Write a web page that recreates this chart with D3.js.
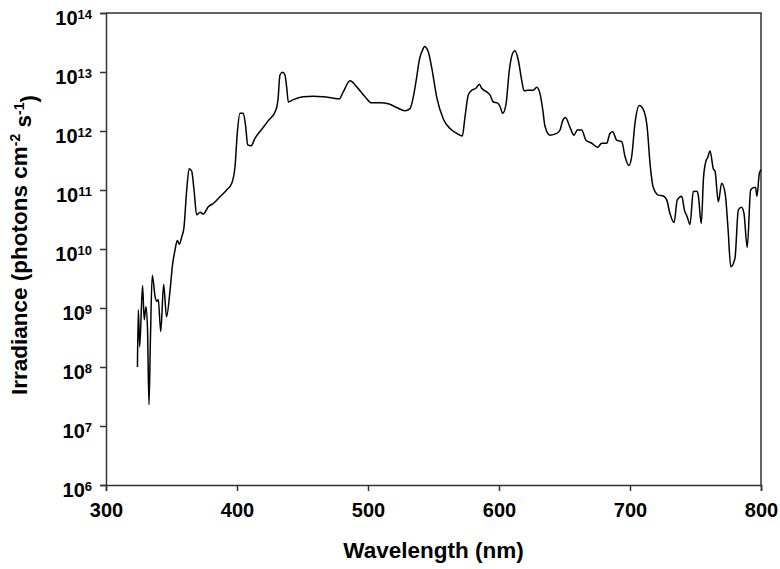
<!DOCTYPE html>
<html>
<head>
<meta charset="utf-8">
<script src="https://cdn.jsdelivr.net/npm/d3@7"></script>
<style>
  body { margin: 0; background: #fff; }
  svg { display: block; font-family: Arial, "Liberation Sans", sans-serif; }
</style>
</head>
<body>
<svg id="chart"></svg>
<script>
// spectrum
const wavelength = [
  324.0, 324.7, 325.7, 327.9, 329.2, 330.5, 331.7, 332.8, 333.9, 335.3,
  337.6, 338.9, 339.9, 341.8, 344.0, 346.2, 348.9, 350.9, 352.7, 354.4,
  355.9, 357.8, 359.5, 361.6, 363.5, 365.4, 367.2, 369.2, 371.8, 374.3,
  378.1, 381.9, 387.0, 392.1, 396.0, 398.5, 400.2, 402.3, 404.8, 406.6,
  408.2, 410.7, 413.7, 418.9, 423.9, 429.8, 431.3, 432.8, 434.9, 436.6,
  437.9, 439.2, 443.0, 450.6, 458.2, 465.9, 473.5, 478.1, 481.1, 486.3,
  491.4, 497.7, 502.8, 509.2, 515.5, 521.9, 528.2, 532.1, 534.6, 537.2,
  539.2, 541.8, 543.1, 546.0, 548.6, 552.4, 557.5, 562.6, 567.7, 572.0,
  574.0, 576.6, 579.2, 582.4, 585.0, 586.8, 590.6, 593.1, 595.7, 598.7,
  600.8, 602.8, 605.3, 607.9, 610.5, 612.2, 614.7, 617.3, 619.1, 622.4,
  626.2, 628.8, 631.3, 633.4, 635.1, 638.9, 644.0, 646.6, 648.6, 650.8,
  654.2, 657.3, 659.8, 663.1, 666.4, 670.8, 675.3, 678.4, 682.2, 684.7,
  686.8, 689.8, 693.7, 696.2, 699.2, 701.3, 703.8, 707.1, 710.2, 713.2,
  715.3, 717.8, 721.6, 725.4, 728.0, 730.5, 733.6, 736.1, 739.5, 741.5,
  743.7, 745.8, 748.3, 750.9, 752.1, 754.4, 756.1, 758.0, 759.2, 761.1,
  763.6, 764.9, 767.4, 770.0, 772.7, 774.9, 776.9, 780.1, 782.7, 785.2,
  787.0, 789.5, 792.1, 794.7, 795.9, 796.9, 798.7, 800.0
];
const irradiance = [
  1.0e8, 9.3e8, 2.2e8, 2.4e9, 6.3e8, 1.05e9, 4.3e8, 2.3e7, 2.9e8, 3.6e9,
  1.5e9, 1.3e9, 1.4e9, 4.0e8, 2.5e9, 7.1e8, 2.0e9, 5.7e9, 9.6e9, 1.4e10,
  1.2e10, 1.6e10, 2.3e10, 1.0e11, 2.3e11, 2.1e11, 1.0e11, 3.8e10, 4.2e10, 3.9e10,
  5.2e10, 5.9e10, 7.7e10, 1.0e11, 1.3e11, 2.5e11, 9.1e11, 2.0e12, 2.0e12, 1.2e12,
  5.8e11, 5.6e11, 7.5e11, 1.07e12, 1.5e12, 2.3e12, 3.4e12, 8.9e12, 9.9e12, 8.9e12,
  5.6e12, 3.1e12, 3.4e12, 3.8e12, 3.9e12, 3.8e12, 3.6e12, 3.5e12, 4.6e12, 7.1e12,
  5.6e12, 3.8e12, 3.0e12, 3.0e12, 2.9e12, 2.5e12, 2.2e12, 2.4e12, 3.8e12, 8.3e12,
  1.6e13, 2.4e13, 2.7e13, 2.2e13, 1.2e13, 3.8e12, 1.6e12, 1.1e12, 9.1e11, 8.2e11,
  1.7e12, 4.1e12, 4.9e12, 5.3e12, 6.2e12, 5.3e12, 4.6e12, 4.1e12, 3.1e12, 3.0e12,
  2.6e12, 2.0e12, 2.8e12, 1.08e13, 2.1e13, 2.3e13, 1.6e13, 7.3e12, 4.8e12, 4.9e12,
  4.9e12, 5.5e12, 4.3e12, 2.3e12, 1.2e12, 8.5e11, 9.1e11, 1.04e12, 1.5e12, 1.7e12,
  1.15e12, 8.5e11, 1.04e12, 1.04e12, 7.0e11, 6.2e11, 5.3e11, 6.2e11, 6.2e11, 9.1e11,
  9.7e11, 7.0e11, 6.6e11, 3.7e11, 2.6e11, 3.7e11, 1.35e12, 2.7e12, 2.3e12, 1.1e12,
  2.8e11, 1.1e11, 8.2e10, 7.9e10, 6.8e10, 4.0e10, 2.8e10, 6.8e10, 7.8e10, 4.6e10,
  3.5e10, 2.6e10, 9.4e10, 9.5e10, 8.2e10, 2.7e10, 1.6e11, 3.1e11, 3.5e11, 4.6e11,
  2.3e11, 2.1e11, 6.3e10, 1.3e11, 8.5e10, 2.1e10, 5.0e9, 6.9e9, 4.6e10, 5.1e10,
  4.0e10, 1.06e10, 1.0e11, 1.1e11, 1.1e11, 7.8e10, 1.9e11, 2.2e11
];
const xTickValues = [300, 400, 500, 600, 700, 800];
const yExponents = [6, 7, 8, 9, 10, 11, 12, 13, 14];

const width = 780, height = 569;
const margin = { top: 13, right: 19, bottom: 84, left: 106 };
const plotW = width - margin.left - margin.right;
const plotH = height - margin.top - margin.bottom;
const axisColor = '#333';

const svg = d3.select('#chart')
  .attr('width', width)
  .attr('height', height);

const g = svg.append('g')
  .attr('transform', `translate(${margin.left},${margin.top})`);

const x = d3.scaleLinear().domain([300, 800]).range([0, plotW]);
const y = d3.scaleLog().domain([1e6, 1e14]).range([plotH, 0]);

// frame (top and right)
g.append('path')
  .attr('d', `M0,0H${plotW}V${plotH}`)
  .attr('fill', 'none')
  .attr('stroke', axisColor)
  .attr('stroke-width', 1.5);

const xAxis = d3.axisBottom(x)
  .tickValues(xTickValues)
  .tickFormat(d3.format('d'))
  .tickSize(6)
  .tickPadding(12);

const yAxis = d3.axisLeft(y)
  .tickValues(yExponents.map(e => Math.pow(10, e)))
  .tickSize(6)
  .tickPadding(6)
  .tickFormat('');

const gx = g.append('g')
  .attr('transform', `translate(0,${plotH})`)
  .call(xAxis);

const gy = g.append('g').call(yAxis);

[gx, gy].forEach(a => {
  a.select('.domain').attr('stroke', axisColor).attr('stroke-width', 1.5);
  a.selectAll('.tick line').attr('stroke', axisColor).attr('stroke-width', 1.5);
  a.selectAll('text')
    .attr('fill', '#000')
    .style('font-size', '20px')
    .style('font-weight', 'bold');
});

// y labels as 10 with superscript exponent, sitting a little under the tick
gy.selectAll('.tick text')
  .attr('x', -14)
  .attr('dy', '0.55em')
  .each(function(d) {
    const t = d3.select(this);
    t.text(null);
    t.append('tspan').text('10');
    t.append('tspan')
      .attr('dy', '-0.45em')
      .style('font-size', '13px')
      .text(Math.round(Math.log10(d)));
  });

const line = d3.line()
  .x((d, i) => x(wavelength[i]))
  .y(d => y(d))
  .curve(d3.curveMonotoneX);

g.append('path')
  .datum(irradiance)
  .attr('fill', 'none')
  .attr('stroke', '#000')
  .attr('stroke-width', 1.5)
  .attr('d', line);

// axis titles
svg.append('text')
  .attr('x', margin.left + plotW / 2)
  .attr('y', 558)
  .attr('text-anchor', 'middle')
  .style('font-size', '22.5px')
  .style('font-weight', 'bold')
  .text('Wavelength (nm)');

const yTitle = svg.append('text')
  .attr('transform', `translate(27,${margin.top + plotH / 2 - 4}) rotate(-90)`)
  .attr('text-anchor', 'middle')
  .style('font-size', '22.5px')
  .style('font-weight', 'bold');
yTitle.append('tspan').text('Irradiance (photons cm');
yTitle.append('tspan').attr('dy', '-0.5em').style('font-size', '14px').text('-2');
yTitle.append('tspan').attr('dy', '0.5em').text(' s');
yTitle.append('tspan').attr('dy', '-0.5em').style('font-size', '14px').text('-1');
yTitle.append('tspan').attr('dy', '0.5em').text(')');
</script>
</body>
</html>
